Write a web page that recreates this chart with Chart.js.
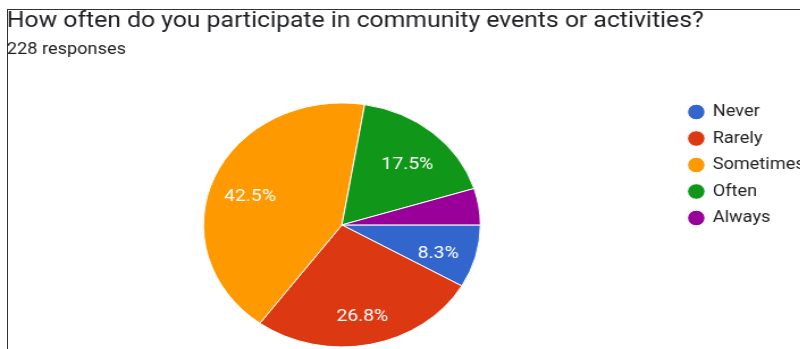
<!DOCTYPE html>
<html>
<head>
<meta charset="utf-8">
<script src="https://cdn.jsdelivr.net/npm/chart.js@4.4.1/dist/chart.umd.min.js"></script>
<style>
  html, body { margin: 0; padding: 0; background: #fff; overflow: hidden; }
  body { width: 800px; height: 349px; position: relative; }
  #frame {
    position: absolute; left: 7px; top: 9px; right: -5px; bottom: -5px;
    border-left: 1px solid #333; border-top: 1px solid #333;
  }
  /* the whole summary card is drawn a bit wider than tall */
  #wrap {
    position: absolute; left: 0; top: 0; width: 720px; height: 349px;
    transform: scaleX(1.135); transform-origin: 0 0;
  }
</style>
</head>
<body>
<div id="frame"></div>
<div id="wrap"><canvas id="pieChart"></canvas></div>
<script>
const question = "How often do you participate in community events or activities?";
const answers = ["Never", "Rarely", "Sometimes", "Often", "Always"];
const counts = [19, 61, 97, 40, 11];
const sliceColors = ["#3366cc", "#dc3912", "#ff9900", "#109618", "#990099"];

const total = counts.reduce((a, b) => a + b, 0);

// percentage text inside each slice (small slices stay blank)
const sliceLabels = {
  id: "sliceLabels",
  afterDatasetsDraw(chart) {
    const ctx = chart.ctx;
    const meta = chart.getDatasetMeta(0);
    ctx.save();
    ctx.font = "17px Roboto";
    ctx.fillStyle = "#ffffff";
    ctx.textAlign = "center";
    ctx.textBaseline = "middle";
    meta.data.forEach(function (arc, i) {
      const pct = (counts[i] / total) * 100;
      if (pct < 5) return;
      const p = arc.getProps(["x", "y", "startAngle", "endAngle", "outerRadius"], true);
      const mid = (p.startAngle + p.endAngle) / 2;
      const r = p.outerRadius * 0.72;
      ctx.fillText(pct.toFixed(1) + "%", p.x + Math.cos(mid) * r, p.y + Math.sin(mid) * r + 6);
    });
    ctx.restore();
  },
};

Chart.defaults.font.family = "Roboto";

const pieChart = new Chart(document.getElementById("pieChart").getContext("2d"), {
  type: "pie",
  data: {
    labels: answers,
    datasets: [
      {
        data: counts,
        backgroundColor: sliceColors,
        borderColor: "#ffffff",
        borderWidth: 1,
        radius: 122,
        clip: false,
      },
    ],
  },
  options: {
    responsive: true,
    maintainAspectRatio: false,
    animation: false,
    events: [],
    rotation: 90,
    layout: {
      padding: { left: 6, right: 1, top: 0, bottom: 19 },
    },
    plugins: {
      title: {
        display: true,
        text: question,
        align: "start",
        color: "#202124",
        font: { size: 21.8, weight: "normal" },
        padding: { top: 8.6, bottom: 0 },
      },
      subtitle: {
        display: true,
        text: total + " responses",
        align: "start",
        color: "#202124",
        font: { size: 16 },
        padding: { top: 5.3, bottom: 60.6 },
      },
      legend: {
        display: true,
        position: "right",
        align: "center",
        labels: {
          usePointStyle: true,
          pointStyle: "circle",
          boxWidth: 13,
          boxHeight: 11,
          padding: 10.5,
          color: "#222222",
          font: { size: 16 },
        },
      },
      tooltip: { enabled: false },
    },
  },
  plugins: [sliceLabels],
});
</script>
</body>
</html>
